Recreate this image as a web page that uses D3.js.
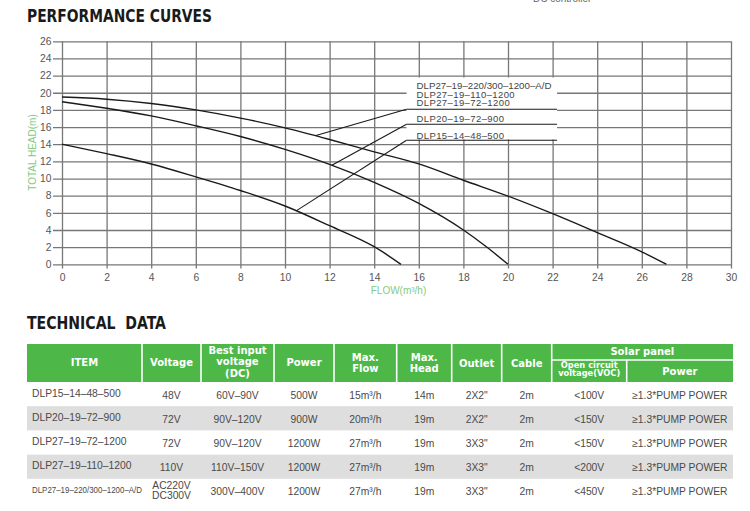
<!DOCTYPE html>
<html>
<head>
<meta charset="utf-8">
<script src="https://cdn.jsdelivr.net/npm/d3@7"></script>
<style>
  body { margin: 0; background: #fff; }
  svg { display: block; }
</style>
</head>
<body>
<div id="chart"></div>
<script>
// ---- chart data ----
const flowTicks = [0, 2, 4, 6, 8, 10, 12, 14, 16, 18, 20, 22, 24, 26, 28, 30];
const headTicks = [0, 2, 4, 6, 8, 10, 12, 14, 16, 18, 20, 22, 24, 26];

// DLP27 models share one curve
const flow27 = [0, 2, 4, 6, 8, 10, 12, 14, 16, 18, 20, 22, 24, 26, 27.1];
const head27 = [19.5, 19.25, 18.75, 18.0, 17.05, 15.9, 14.55, 13.1, 11.7, 9.8, 7.95, 5.9, 3.7, 1.45, 0];

const flow20 = [0, 2, 4, 6, 8, 10, 12, 14, 16, 18, 19, 20];
const head20 = [18.95, 18.2, 17.3, 16.15, 14.9, 13.4, 11.65, 9.55, 7.1, 4.0, 2.1, 0];

const flow15 = [0, 2, 4, 6, 8, 10, 12, 14, 15.2];
const head15 = [14, 12.9, 11.7, 10.2, 8.6, 6.8, 4.5, 2.05, 0];

const curveLabels = ['DLP27–19–220/300–1200–A/D', 'DLP27–19–110–1200', 'DLP27–19–72–1200', 'DLP20–19–72–900', 'DLP15–14–48–500'];
// leader lines: label index, the curve it points at, flow where it touches
const leaderLabel = [2, 3, 4];
const leaderFlow = [11.35, 12.1, 10.5];

// ---- table data ----
const items = ['DLP15–14–48–500', 'DLP20–19–72–900', 'DLP27–19–72–1200', 'DLP27–19–110–1200', 'DLP27–19–220/300–1200–A/D'];
const voltage = [['48V'], ['72V'], ['72V'], ['110V'], ['AC220V', 'DC300V']];
const bestInput = ['60V–90V', '90V–120V', '90V–120V', '110V–150V', '300V–400V'];
const power = ['500W', '900W', '1200W', '1200W', '1200W'];
const maxFlow = ['15m³/h', '20m³/h', '27m³/h', '27m³/h', '27m³/h'];
const maxHead = ['14m', '19m', '19m', '19m', '19m'];
const outlet = ['2X2"', '2X2"', '3X3"', '3X3"', '3X3"'];
const cable = ['2m', '2m', '2m', '2m', '2m'];
const voc = ['<100V', '<150V', '<150V', '<200V', '<450V'];
const solarPower = ['≥1.3*PUMP POWER', '≥1.3*PUMP POWER', '≥1.3*PUMP POWER', '≥1.3*PUMP POWER', '≥1.3*PUMP POWER'];

// ---- setup ----
const w = 750;
const h = 511;
const green = '#4db848';
const gridColor = '#777';
const textFont = '"Liberation Sans", Arial, sans-serif';
const headFont = '"DejaVu Sans", sans-serif';

const svg = d3.select('#chart')
    .append('svg')
    .attr('width', w)
    .attr('height', h);

// cut-off caption from the page above
svg.append('text')
    .attr('x', 533).attr('y', 1.5)
    .attr('font-family', textFont).attr('font-size', 10)
    .attr('fill', '#666')
    .text('DC controller');

// section titles
function sectionTitle(txt, y, len) {
    svg.append('text')
        .attr('x', 27).attr('y', y)
        .attr('font-family', '"DejaVu Sans Condensed", "DejaVu Sans", sans-serif')
        .attr('font-weight', 'bold')
        .attr('font-size', 17)
        .attr('fill', '#1a1a1a')
        .attr('textLength', len)
        .attr('lengthAdjust', 'spacingAndGlyphs')
        .style('white-space', 'pre')
        .text(txt);
}
sectionTitle('PERFORMANCE CURVES', 21.7, 185);
sectionTitle('TECHNICAL  DATA', 329, 139);

// ---- curves ----
const x_scale = d3.scaleLinear().domain([0, 30]).range([62, 731]);
const y_scale = d3.scaleLinear().domain([0, 26]).range([264.3, 41.3]);

// horizontal grid + y labels
const y_axis = d3.axisLeft(y_scale)
    .tickValues(headTicks)
    .tickSize(-(731 - 53))
    .tickPadding(1.5);
const gy = svg.append('g')
    .attr('transform', 'translate(53,0)')
    .call(y_axis);
gy.select('.domain').remove();
gy.selectAll('line').attr('stroke', gridColor).attr('stroke-width', 1.3);
gy.selectAll('text')
    .attr('font-family', textFont).attr('font-size', 10.3)
    .attr('fill', '#555');

// vertical grid + x labels
const x_axis = d3.axisBottom(x_scale)
    .tickValues(flowTicks)
    .tickSize(-(268.5 - 41.3))
    .tickPadding(5);
const gx = svg.append('g')
    .attr('transform', 'translate(0,268.5)')
    .call(x_axis);
gx.select('.domain').remove();
gx.selectAll('line').attr('stroke', gridColor).attr('stroke-width', 1.3);
gx.selectAll('text')
    .attr('font-family', textFont).attr('font-size', 10.3)
    .attr('fill', '#555');

// axis titles
svg.append('text')
    .attr('transform', 'translate(36,152.5) rotate(-90)')
    .attr('text-anchor', 'middle')
    .attr('font-family', textFont).attr('font-size', 10)
    .attr('fill', '#86c983')
    .text('TOTAL HEAD(m)');
svg.append('text')
    .attr('x', 398.5).attr('y', 294)
    .attr('text-anchor', 'middle')
    .attr('font-family', textFont).attr('font-size', 10)
    .attr('fill', '#86c983')
    .text('FLOW(m³/h)');

const curves = [
    { flow: flow27, head: head27 },
    { flow: flow20, head: head20 },
    { flow: flow15, head: head15 }
];
const line = d3.line()
    .x(d => x_scale(d[0]))
    .y(d => y_scale(d[1]))
    .curve(d3.curveMonotoneX);

svg.selectAll('path.curve')
    .data(curves)
    .enter()
    .append('path')
    .attr('class', 'curve')
    .attr('d', c => line(d3.zip(c.flow, c.head)))
    .attr('fill', 'none')
    .attr('stroke', '#1a1a1a')
    .attr('stroke-width', 1.4);

// label box
const boxX0 = x_scale(15.45);
const boxX1 = x_scale(22.2);
svg.append('rect')
    .attr('x', boxX0).attr('y', 77.5)
    .attr('width', boxX1 - boxX0).attr('height', 62)
    .attr('fill', '#fff');

const labelY = [89, 97.5, 106, 121.8, 138.5];
const underlineY = [null, null, 109.3, 124.3, 140.3];
svg.selectAll('text.clabel')
    .data(curveLabels)
    .enter()
    .append('text')
    .attr('class', 'clabel')
    .attr('x', 416.5)
    .attr('y', (d, i) => labelY[i])
    .attr('font-family', textFont).attr('font-size', 9.5)
    .attr('letter-spacing', 0.4)
    .attr('fill', '#444')
    .each(function (d, i) {
        if (i === 0) {
            d3.select(this)
                .attr('letter-spacing', 0)
                .attr('textLength', 135)
                .attr('lengthAdjust', 'spacingAndGlyphs');
        }
    })
    .text(d => d);

function headAt(c, f) {
    return d3.scaleLinear().domain(c.flow).range(c.head)(f);
}
leaderLabel.forEach((li, k) => {
    const c = curves[k];
    const uy = underlineY[li];
    svg.append('line')
        .attr('x1', boxX0).attr('x2', boxX1)
        .attr('y1', uy).attr('y2', uy)
        .attr('stroke', '#1a1a1a').attr('stroke-width', 1.1);
    svg.append('line')
        .attr('x1', boxX0).attr('y1', uy)
        .attr('x2', x_scale(leaderFlow[k]))
        .attr('y2', y_scale(headAt(c, leaderFlow[k])))
        .attr('stroke', '#1a1a1a').attr('stroke-width', 1.1);
});

// ---- table ----
const cols = [27, 142, 201, 274, 334, 396.7, 451.7, 501.7, 551.7, 626.7, 733];
const headTop = 344;
const headBottom = 382;
const solarSplit = 360;
const rowH = 24.2;

const th = svg.append('g');
th.append('rect')
    .attr('x', cols[0]).attr('y', headTop)
    .attr('width', cols[10] - cols[0]).attr('height', headBottom - headTop)
    .attr('fill', green);
// white separators
for (let i = 1; i < 10; i++) {
    const top = (i === 9) ? solarSplit : headTop;
    th.append('line')
        .attr('x1', cols[i]).attr('x2', cols[i])
        .attr('y1', top).attr('y2', headBottom)
        .attr('stroke', '#fff').attr('stroke-width', 1.6);
}
th.append('line')
    .attr('x1', cols[8]).attr('x2', cols[10])
    .attr('y1', solarSplit).attr('y2', solarSplit)
    .attr('stroke', '#fff').attr('stroke-width', 1.6);

const headers = [
    { c0: 0, c1: 1, lines: ['ITEM'], ys: [366] },
    { c0: 1, c1: 2, lines: ['Voltage'], ys: [366] },
    { c0: 2, c1: 3, lines: ['Best input', 'voltage', '(DC)'], ys: [353.5, 365, 376.5] },
    { c0: 3, c1: 4, lines: ['Power'], ys: [366] },
    { c0: 4, c1: 5, lines: ['Max.', 'Flow'], ys: [360.5, 371.5] },
    { c0: 5, c1: 6, lines: ['Max.', 'Head'], ys: [360.5, 371.5] },
    { c0: 6, c1: 7, lines: ['Outlet'], ys: [366.5] },
    { c0: 7, c1: 8, lines: ['Cable'], ys: [366.5] },
    { c0: 8, c1: 10, lines: ['Solar panel'], ys: [354.5] },
    { c0: 8, c1: 9, lines: ['Open circuit', 'voltage(VOC)'], ys: [367.5, 376], size: 8.3 },
    { c0: 9, c1: 10, lines: ['Power'], ys: [374.5] }
];
headers.forEach(hd => {
    const cx = (cols[hd.c0] + cols[hd.c1]) / 2;
    hd.lines.forEach((t, i) => {
        th.append('text')
            .attr('x', cx).attr('y', hd.ys[i])
            .attr('text-anchor', 'middle')
            .attr('font-family', headFont)
            .attr('font-weight', 'bold')
            .attr('font-size', hd.size || 10)
            .attr('fill', '#fff')
            .text(t);
    });
});

// body rows
const body = svg.append('g');
items.forEach((item, r) => {
    const top = headBottom + r * rowH;
    if (r % 2 === 1) {
        body.append('rect')
            .attr('x', cols[0]).attr('y', top)
            .attr('width', cols[10] - cols[0]).attr('height', rowH)
            .attr('fill', '#dedede');
    }
    const it = body.append('text')
        .attr('x', 32).attr('y', top + 14.5)
        .attr('font-family', textFont)
        .attr('font-size', 10.3)
        .attr('fill', '#4a4a4a')
        .text(item);
    if (item.length > 20) {
        it.attr('font-size', 8.6)
            .attr('textLength', 110)
            .attr('lengthAdjust', 'spacingAndGlyphs');
    }
    const cells = [voltage[r], bestInput[r], power[r], maxFlow[r], maxHead[r], outlet[r], cable[r], voc[r], solarPower[r]];
    cells.forEach((v, c) => {
        const cx = (cols[c + 1] + cols[c + 2]) / 2;
        const linesArr = Array.isArray(v) ? v : [v];
        const y0 = linesArr.length > 1 ? top + 10.6 : top + 16.5;
        linesArr.forEach((t, i) => {
            body.append('text')
                .attr('x', cx).attr('y', y0 + i * 10)
                .attr('text-anchor', 'middle')
                .attr('font-family', textFont)
                .attr('font-size', 10.3)
                .attr('fill', '#4a4a4a')
                .text(t);
        });
    });
});
</script>
</body>
</html>
